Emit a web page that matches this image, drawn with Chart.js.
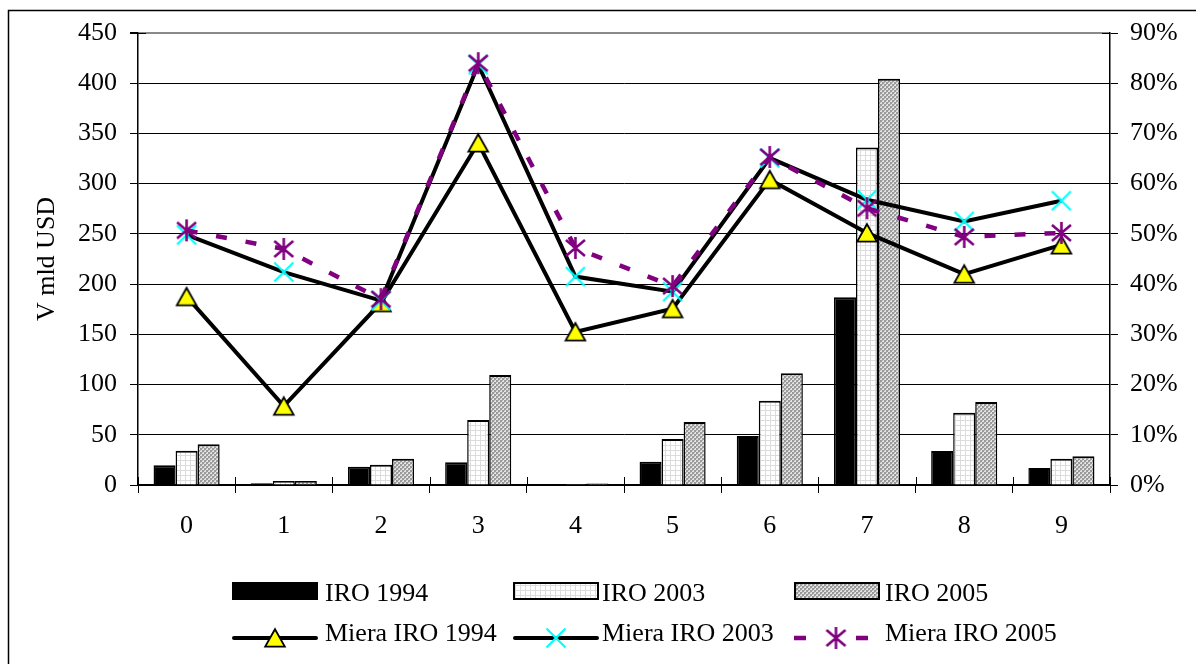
<!DOCTYPE html>
<html>
<head>
<meta charset="utf-8">
<title>IRO</title>
<script src="https://cdn.jsdelivr.net/npm/chart.js@4/dist/chart.umd.min.js"></script>
<style>
  html, body { margin: 0; padding: 0; background: #ffffff; }
  #wrap { width: 1196px; height: 664px; }
</style>
</head>
<body>
<div id="wrap"><canvas id="c" width="1196" height="664"></canvas></div>
<script>
// Category labels along the x axis
const categories = ['0', '1', '2', '3', '4', '5', '6', '7', '8', '9'];

// IRO volumes (V mld USD), left axis
const iro1994 = [19.6, 1.7, 18.2, 22.6, 0.5, 23.2, 48.8, 187, 33.9, 16.9];
const iro2003 = [34.2, 4.0, 20.2, 64.8, 1.0, 45.8, 84.0, 336, 72.0, 26.2];
const iro2005 = [40.5, 4.0, 26.2, 109.6, 1.5, 62.8, 111.3, 404.5, 82.7, 28.6];

// IRO rates (%), right axis
const miera1994 = [37.5, 15.7, 36.3, 68.1, 30.5, 35.1, 60.8, 50.2, 42.0, 47.8];
const miera2003 = [49.8, 42.4, 36.7, 83.7, 41.5, 38.5, 65.1, 56.8, 52.5, 56.6];
const miera2005 = [50.7, 47.0, 37.0, 84.0, 47.2, 39.6, 65.3, 55.1, 49.4, 50.2];

// Axis ranges
const leftAxis = { min: 0, max: 450, step: 50 };
const rightAxis = { min: 0, max: 90, step: 10 };

const FONT = "'Liberation Serif', 'Times New Roman', serif";

// ---- fill patterns ----
function gridPattern() {
  const t = document.createElement('canvas');
  t.width = 5; t.height = 5;
  const g = t.getContext('2d');
  g.fillStyle = '#ffffff'; g.fillRect(0, 0, 5, 5);
  g.fillStyle = '#dcdcdc';
  g.fillRect(0, 0, 5, 1);
  g.fillRect(0, 0, 1, 5);
  return g.createPattern(t, 'repeat');
}
function dotPattern() {
  const t = document.createElement('canvas');
  t.width = 4; t.height = 4;
  const g = t.getContext('2d');
  g.fillStyle = '#e4e4e4'; g.fillRect(0, 0, 4, 4);
  g.fillStyle = '#9a9a9a';
  g.fillRect(0, 0, 2, 2);
  g.fillRect(2, 2, 2, 2);
  g.fillStyle = '#b8b8b8';
  g.fillRect(2, 0, 1, 1);
  g.fillRect(0, 2, 1, 1);
  return g.createPattern(t, 'repeat');
}

// ---- point markers ----
function triangleMarker() {
  const c = document.createElement('canvas');
  c.width = 24; c.height = 22;
  const g = c.getContext('2d');
  g.beginPath();
  g.moveTo(12, 2.2);
  g.lineTo(21.8, 19.6);
  g.lineTo(2.2, 19.6);
  g.closePath();
  g.fillStyle = '#ffff00';
  g.fill();
  g.lineWidth = 1.8;
  g.strokeStyle = '#000000';
  g.lineJoin = 'miter';
  g.stroke();
  return c;
}
function crossMarker() {
  const c = document.createElement('canvas');
  c.width = 22; c.height = 22;
  const g = c.getContext('2d');
  g.strokeStyle = '#00ffff';
  g.lineWidth = 2.2;
  g.beginPath();
  g.moveTo(1.5, 1.5); g.lineTo(20.5, 20.5);
  g.moveTo(20.5, 1.5); g.lineTo(1.5, 20.5);
  g.stroke();
  return c;
}
function starMarker() {
  const c = document.createElement('canvas');
  c.width = 23; c.height = 24;
  const g = c.getContext('2d');
  g.strokeStyle = '#800080';
  g.lineWidth = 2.6;
  g.beginPath();
  g.moveTo(11.5, 1); g.lineTo(11.5, 23);
  g.moveTo(2, 4); g.lineTo(21, 20);
  g.moveTo(21, 4); g.lineTo(2, 20);
  g.stroke();
  return c;
}

const markTri = triangleMarker();
const markX = crossMarker();
const markStar = starMarker();

// ---- decorations: outer frame, crossing tick marks, series key ----
const frame = {
  id: 'frame',
  beforeDraw(chart) {
    const ctx = chart.ctx;
    ctx.save();
    ctx.fillStyle = '#ffffff';
    ctx.fillRect(0, 0, chart.width, chart.height);
    ctx.strokeStyle = '#000000';
    ctx.lineWidth = 1.5;
    ctx.strokeRect(8.5, 10.5, chart.width + 20, chart.height + 20);
    ctx.restore();
  }
};

const innerTicks = {
  id: 'innerTicks',
  afterDraw(chart) {
    const ctx = chart.ctx;
    const area = chart.chartArea;
    const x = chart.scales.x;
    const n = categories.length;
    const w = (area.right - area.left) / n;
    ctx.save();
    ctx.strokeStyle = '#000000';
    ctx.lineWidth = 1;
    ctx.beginPath();
    for (let i = 0; i <= n; i++) {
      const px = Math.round(area.left + i * w) + 0.5;
      ctx.moveTo(px, area.bottom);
      ctx.lineTo(px, area.bottom - 8);
    }
    const top = Math.round(area.top) + 0.5;
    ctx.moveTo(area.left, top); ctx.lineTo(area.left + 8, top);
    ctx.moveTo(area.right, top); ctx.lineTo(area.right - 8, top);
    ctx.stroke();
    ctx.restore();
  }
};

const seriesKey = {
  id: 'seriesKey',
  afterDraw(chart) {
    const ctx = chart.ctx;
    const ds = chart.data.datasets;
    const cols = [232, 513, 794];
    const textX = [325, 602, 885];
    ctx.save();
    ctx.font = '26px ' + FONT;
    ctx.fillStyle = '#000000';
    ctx.textBaseline = 'alphabetic';
    ctx.textAlign = 'left';
    // bar swatches
    for (let i = 0; i < 3; i++) {
      const d = ds[i];
      ctx.fillStyle = d.backgroundColor;
      ctx.fillRect(cols[i], 582, 86, 18);
      ctx.strokeStyle = '#000000';
      ctx.lineWidth = 2;
      ctx.strokeRect(cols[i] + 1, 583, 84, 16);
      ctx.fillStyle = '#000000';
      ctx.fillText(d.label, textX[i], 601);
    }
    // line swatches
    const y = 638;
    for (let i = 0; i < 3; i++) {
      const d = ds[i + 3];
      const x0 = cols[i];
      ctx.strokeStyle = d.borderColor;
      if (d.borderDash) {
        ctx.lineWidth = 4.5;
        ctx.lineCap = 'butt';
        ctx.beginPath();
        ctx.moveTo(x0, y); ctx.lineTo(x0 + 12, y);
        ctx.moveTo(x0 + 62, y); ctx.lineTo(x0 + 74, y);
        ctx.stroke();
        const m = d.pointStyle;
        ctx.drawImage(m, x0 + 42 - m.width / 2, y - m.height / 2);
      } else {
        ctx.lineWidth = 4;
        ctx.lineCap = 'round';
        ctx.beginPath();
        ctx.moveTo(x0 + 2, y); ctx.lineTo(x0 + 84, y);
        ctx.stroke();
        const m = d.pointStyle;
        ctx.drawImage(m, x0 + 43 - m.width / 2, y - m.height / 2);
      }
      ctx.fillStyle = '#000000';
      ctx.fillText(d.label, textX[i], 641);
    }
    ctx.restore();
  }
};

const barStyle = {
  type: 'bar',
  yAxisID: 'y',
  borderColor: '#000000',
  borderWidth: { top: 2, left: 1.5, right: 1.5, bottom: 0 },
  borderSkipped: false,
  categoryPercentage: 0.68,
  barPercentage: 1.0,
  order: 10
};
const lineStyle = {
  type: 'line',
  yAxisID: 'y2',
  borderWidth: 4,
  tension: 0,
  fill: false,
  pointRadius: 5,
  pointHoverRadius: 5
};

const chart = new Chart(document.getElementById('c'), {
  type: 'bar',
  data: {
    labels: categories,
    datasets: [
      Object.assign({}, barStyle, { label: 'IRO 1994', data: iro1994, backgroundColor: '#000000' }),
      Object.assign({}, barStyle, { label: 'IRO 2003', data: iro2003, backgroundColor: gridPattern() }),
      Object.assign({}, barStyle, { label: 'IRO 2005', data: iro2005, backgroundColor: dotPattern() }),
      Object.assign({}, lineStyle, { label: 'Miera IRO 1994', data: miera1994, borderColor: '#000000', backgroundColor: '#000000', pointStyle: markTri, order: 3 }),
      Object.assign({}, lineStyle, { label: 'Miera IRO 2003', data: miera2003, borderColor: '#000000', backgroundColor: '#000000', pointStyle: markX, order: 2 }),
      Object.assign({}, lineStyle, { label: 'Miera IRO 2005', data: miera2005, borderColor: '#800080', backgroundColor: '#800080', borderWidth: 4.5, borderDash: [11, 19], pointStyle: markStar, order: 1 })
    ]
  },
  options: {
    responsive: false,
    animation: false,
    events: [],
    layout: { padding: { top: 33, left: 0, right: 0, bottom: 0 } },
    plugins: { legend: { display: false }, tooltip: { enabled: false }, title: { display: false } },
    scales: {
      x: {
        type: 'category',
        offset: true,
        grid: { offset: true, drawOnChartArea: false, drawTicks: true, tickLength: 8, color: '#000000', lineWidth: 1 },
        border: { display: true, color: '#000000', width: 1.5 },
        ticks: { color: '#000000', font: { family: FONT, size: 26 }, padding: 18, maxRotation: 0, autoSkip: false },
        afterFit(s) { s.height = 179; }
      },
      y: {
        position: 'left',
        min: leftAxis.min, max: leftAxis.max,
        grid: {
          color: (c) => (c.tick && c.tick.value === leftAxis.max ? '#8a8a8a' : '#000000'),
          lineWidth: (c) => (c.tick && c.tick.value === leftAxis.max ? 2 : 1),
          tickColor: '#000000', tickLength: 8, drawTicks: true
        },
        border: { display: true, color: '#000000', width: 1.5 },
        ticks: { stepSize: leftAxis.step, color: '#000000', font: { family: FONT, size: 26 }, padding: 13 },
        title: { display: true, text: 'V mld USD', color: '#000000', font: { family: FONT, size: 26 }, padding: { top: 32, bottom: 0 } },
        afterFit(s) { s.width = 138; }
      },
      y2: {
        position: 'right',
        min: rightAxis.min, max: rightAxis.max,
        grid: { drawOnChartArea: false, color: '#000000', tickLength: 8, drawTicks: true },
        border: { display: true, color: '#000000', width: 1.5 },
        ticks: { stepSize: rightAxis.step, color: '#000000', font: { family: FONT, size: 26 }, padding: 12, callback: (v) => v + '%' },
        afterFit(s) { s.width = 86; }
      }
    }
  },
  plugins: [frame, innerTicks, seriesKey]
});
</script>
</body>
</html>
